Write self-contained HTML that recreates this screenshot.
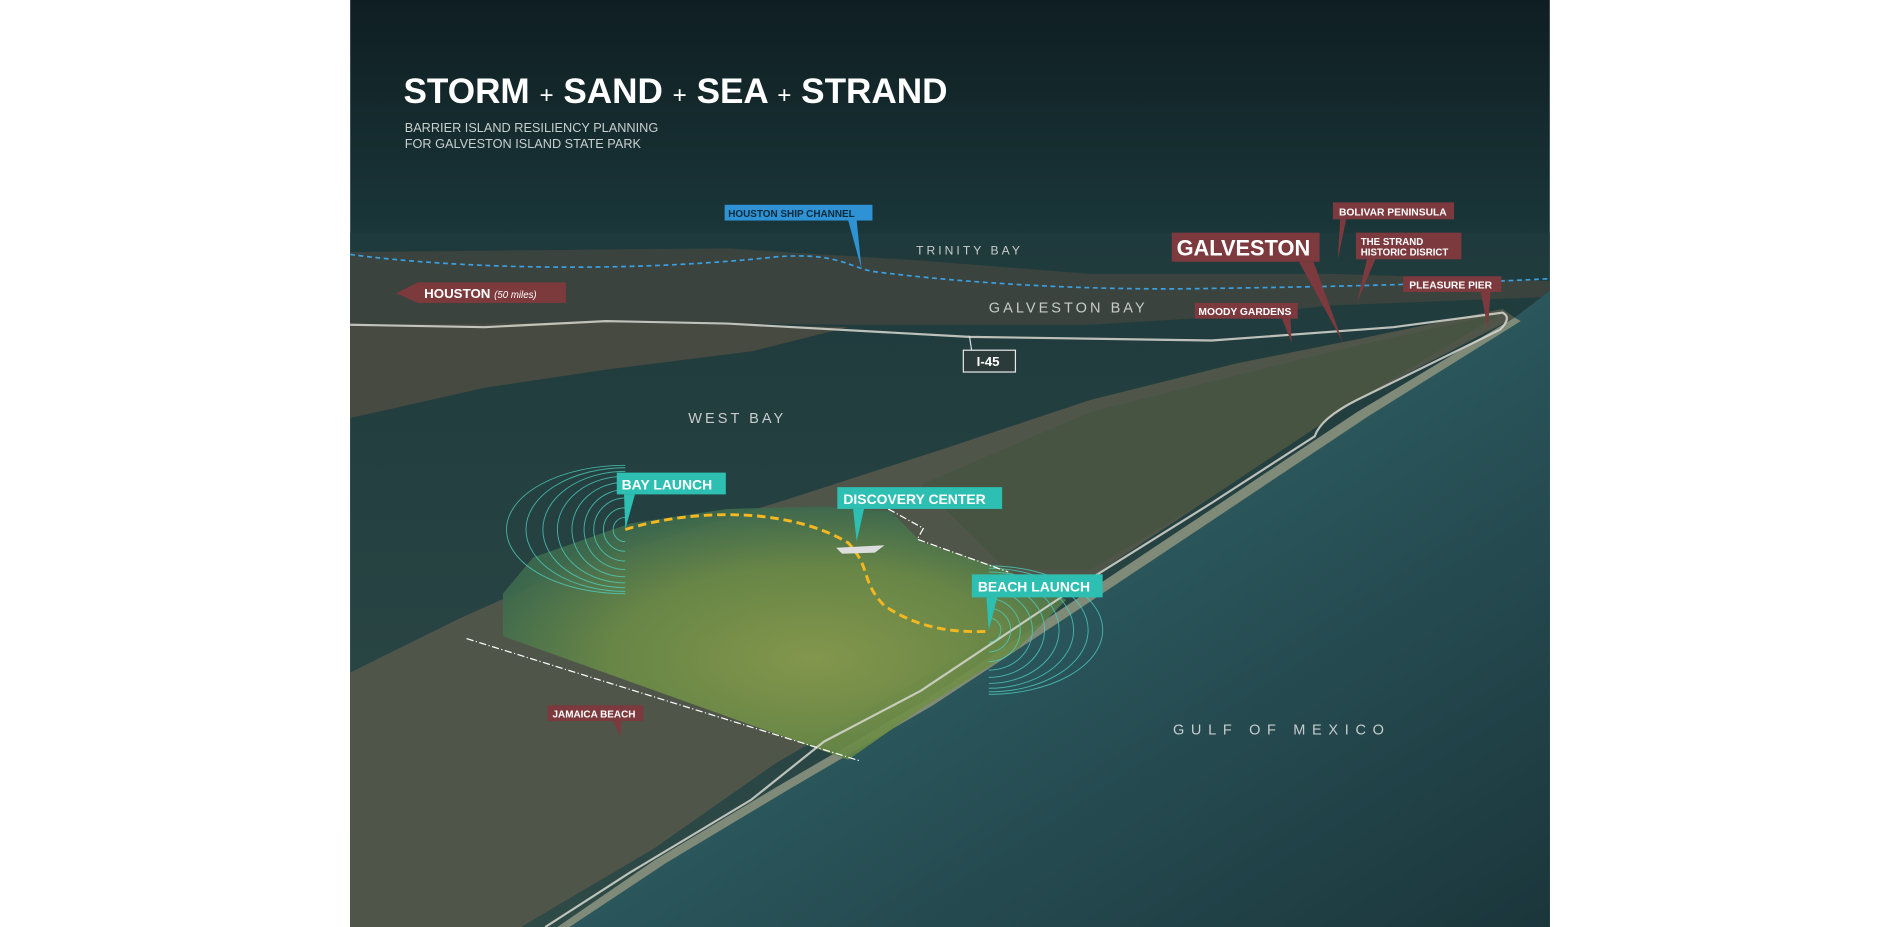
<!DOCTYPE html>
<html><head><meta charset="utf-8"><style>
html,body{margin:0;padding:0;background:#fff;width:1900px;height:927px;overflow:hidden}
svg{display:block}
text{font-family:"Liberation Sans",sans-serif}
</style></head><body>
<svg width="1900" height="927" viewBox="0 0 1568 765" preserveAspectRatio="none" xmlns="http://www.w3.org/2000/svg">
<defs>
<linearGradient id="sky" x1="0" y1="0" x2="0" y2="1">
<stop offset="0" stop-color="#0f1e22"/><stop offset="0.25" stop-color="#1a3639"/><stop offset="1" stop-color="#1f3d3f"/></linearGradient>
<linearGradient id="gulf" x1="0" y1="0" x2="1" y2="1">
<stop offset="0" stop-color="#3c767c"/><stop offset="0.5" stop-color="#2a565c"/><stop offset="1" stop-color="#1b363b"/></linearGradient>
<linearGradient id="bay" x1="0" y1="0" x2="0" y2="1">
<stop offset="0" stop-color="#1f3a3c"/><stop offset="1" stop-color="#2e4a47"/></linearGradient>
<radialGradient id="park" cx="0.55" cy="0.6" r="0.6">
<stop offset="0" stop-color="#879c4c"/><stop offset="0.6" stop-color="#6a8a46"/><stop offset="1" stop-color="#3d6a4e"/></radialGradient>
</defs>
<rect x="0" y="0" width="1568" height="765" fill="#fff"/>
<rect x="289" y="0" width="990" height="765" fill="url(#sky)"/>
<rect x="289" y="192" width="990" height="573" fill="url(#bay)"/>
<path d="M289 208 L600 205 L760 215 L900 226 L1100 226 L1279 232 L1279 245 L1100 252 L1000 262 L900 268 L700 268 L500 266 L289 270 Z" fill="#3a433d"/>
<path d="M289 268 L500 266 L700 270 L620 290 L500 305 L400 320 L289 345 Z" fill="#474a40"/>
<path d="M289 555 L380 510 L470 470 L560 440 L650 412 L780 370 L900 330 L1020 300 L1120 280 L1240 255 L1250 262 L1120 330 L1000 410 L880 490 L760 560 L640 630 L540 700 L430 765 L289 765 Z" fill="#50554a"/>
<path d="M760 400 L900 340 L1100 290 L1240 258 L1120 330 L1000 410 L900 470 L830 470 Z" fill="#485442"/>
<path d="M1279 240 L1250 262 L1120 340 L1000 420 L880 500 L760 580 L640 650 L540 710 L460 765 L1279 765 Z" fill="url(#gulf)"/>
<path d="M1250 262 L1120 340 L1000 420 L880 500 L760 580 L640 650 L540 710 L460 765 L470 765 L550 712 L650 652 L770 582 L890 503 L1010 423 L1130 343 L1255 265Z" fill="#b9ae8a" opacity="0.6"/>
<path d="M415 525 L700 627 L760 585 L840 535 L880 495 L830 470 L760 447 L735 422 L680 418 L600 420 L520 432 L440 460 L415 490 Z" fill="url(#park)" opacity="0.92"/>
<path d="M289 268 L400 270 L500 265 L600 267 L800 278 L1000 281 L1150 270 L1240 258 Q1248 262 1238 272 L1120 330 Q1090 345 1085 360 L1000 415 L880 490 L760 570 L680 612 L620 660 L520 720 L450 765" fill="none" stroke="#d8d8d0" stroke-width="1.8" opacity="0.85"/>
<path d="M289 210 C380 222 520 225 640 212 C690 208 700 220 720 224 C800 234 900 240 1000 238 C1150 236 1240 232 1279 230" fill="none" stroke="#3aa0e0" stroke-width="1.4" stroke-dasharray="4 3"/>
<g fill="none" stroke="#4fd2c4" stroke-width="0.8" opacity="0.75">
<path d="M516 427 A10 10 0 0 0 516 447"/><path d="M516 419 A18 18 0 0 0 516 455"/><path d="M516 411 A26 26 0 0 0 516 463"/><path d="M516 404 A34 33 0 0 0 516 470"/><path d="M516 398 A44 39 0 0 0 516 476"/><path d="M516 393 A56 44 0 0 0 516 481"/><path d="M516 389 A68 48 0 0 0 516 485"/><path d="M516 386 A82 51 0 0 0 516 488"/><path d="M516 384 A98 53 0 0 0 516 490"/>
<path d="M816 510 A10 10 0 0 1 816 530"/><path d="M816 502 A18 18 0 0 1 816 538"/><path d="M816 494 A26 26 0 0 1 816 546"/><path d="M816 487 A36 33 0 0 1 816 553"/><path d="M816 481 A46 39 0 0 1 816 559"/><path d="M816 476 A58 44 0 0 1 816 564"/><path d="M816 472 A70 48 0 0 1 816 568"/><path d="M816 469 A82 51 0 0 1 816 571"/><path d="M816 467 A94 53 0 0 1 816 573"/>
</g>
<path d="M516 437 C570 420 650 418 700 448 C720 470 710 480 730 500 C760 520 790 522 816 521" fill="none" stroke="#f5b820" stroke-width="2.4" stroke-dasharray="7 4"/>
<g stroke="#fff" stroke-width="1" stroke-dasharray="6 2 1 2" fill="none">
<path d="M385 527 L710 628"/><path d="M733 420 L762 436 L757 445 L832 472"/>
</g>
<path d="M690 452 L730 450 L722 456 L695 457Z" fill="#ddd"/>
<text x="333" y="85" fill="#fff" font-size="29" font-weight="bold">STORM <tspan font-weight="normal" font-size="20">+</tspan> SAND <tspan font-weight="normal" font-size="20">+</tspan> SEA <tspan font-weight="normal" font-size="20">+</tspan> STRAND</text>
<text x="334" y="109" fill="#c9cfcf" font-size="10.5">BARRIER ISLAND RESILIENCY PLANNING</text>
<text x="334" y="122" fill="#c9cfcf" font-size="10.5">FOR GALVESTON ISLAND STATE PARK</text>
<g fill="#c8cccc">
<text x="756" y="210" letter-spacing="2.5" font-size="10">TRINITY BAY</text>
<text x="816" y="258" letter-spacing="2.5" font-size="12">GALVESTON BAY</text>
<text x="568" y="349" letter-spacing="2.5" font-size="12">WEST BAY</text>
<text x="968" y="606" letter-spacing="5.5" font-size="12">GULF OF MEXICO</text>
</g>
<rect x="598" y="169" width="122" height="13" fill="#2e92d4"/>
<path d="M700 182 L707 182 L711 222Z" fill="#2e92d4"/>
<text x="601" y="179" fill="#0d2a3a" font-size="8.2" font-weight="bold">HOUSTON SHIP CHANNEL</text>
<path d="M327 242 L345 233 L467 233 L467 250 L345 250 Z" fill="#7c3a3d"/>
<text x="350" y="246" fill="#fff" font-size="11" font-weight="bold">HOUSTON <tspan font-size="8" font-style="italic" font-weight="normal">(50 miles)</tspan></text>
<path d="M800 277 L802 290" stroke="#ddd" stroke-width="1"/>
<rect x="795" y="289" width="43" height="18" fill="#2a3b3a" stroke="#e8e8e8" stroke-width="1"/>
<text x="806" y="302" fill="#fff" font-size="11" font-weight="bold">I-45</text>
<g fill="#7c3a3e">
<rect x="967" y="192" width="122" height="24"/><path d="M1072 216 L1084 216 L1108 282Z"/>
<rect x="1100" y="167" width="100" height="14"/><path d="M1106 181 L1111 181 L1104 214Z"/>
<rect x="1119" y="192" width="87" height="22"/><path d="M1128 214 L1135 214 L1120 249Z"/>
<rect x="1158" y="228" width="81" height="13"/><path d="M1222 241 L1230 241 L1228 272Z"/>
<rect x="986" y="250" width="85" height="13"/><path d="M1058 263 L1065 263 L1066 283Z"/>
<rect x="452" y="582" width="79" height="13"/><path d="M506 595 L513 595 L512 608Z"/>
</g>
<g fill="#fff" font-weight="bold">
<text x="971" y="211" font-size="18">GALVESTON</text>
<text x="1105" y="178" font-size="8.5">BOLIVAR PENINSULA</text>
<text x="1123" y="202" font-size="8">THE STRAND</text>
<text x="1123" y="211" font-size="8">HISTORIC DISRICT</text>
<text x="1163" y="238" font-size="8.5">PLEASURE PIER</text>
<text x="989" y="260" font-size="8.5">MOODY GARDENS</text>
<text x="456" y="592" font-size="8.2">JAMAICA BEACH</text>
</g>
<g fill="#2cbfb2">
<rect x="509" y="390" width="90" height="18"/><path d="M515 408 L524 408 L516 437Z"/>
<rect x="691" y="402" width="136" height="18"/><path d="M704 420 L713 420 L707 447Z"/>
<rect x="802" y="474" width="108" height="19"/><path d="M814 493 L823 493 L816 520Z"/>
</g>
<g fill="#fff" font-weight="bold" font-size="11.5">
<text x="513" y="404">BAY LAUNCH</text>
<text x="696" y="416">DISCOVERY CENTER</text>
<text x="807" y="488">BEACH LAUNCH</text>
</g>
</svg>
</body></html>
